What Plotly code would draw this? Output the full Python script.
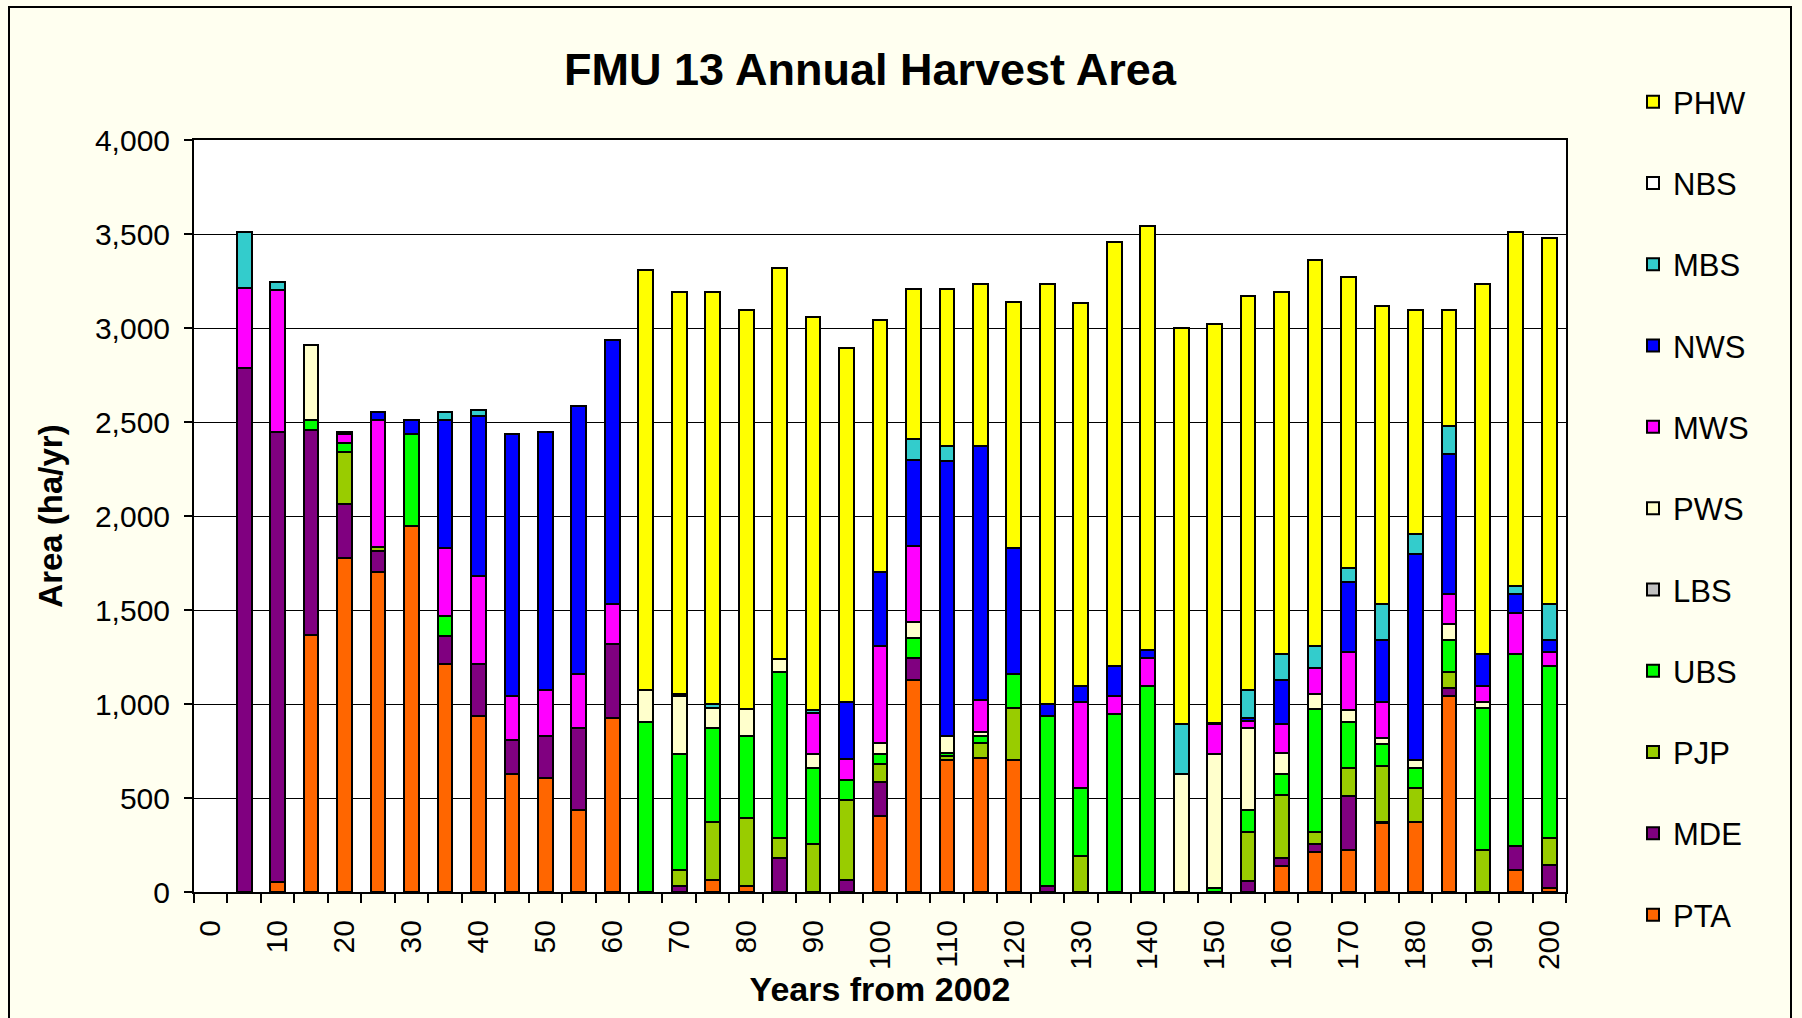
import plotly.graph_objects as go

# ---- data (ha/yr), years from 2002 ----
years = list(range(5, 205, 5))

PTA = [0, 55, 1365, 1778, 1702, 1947, 1213, 936, 627, 604, 434, 928, 0, 0, 65, 31, 0, 0, 0, 405,
       1127, 701, 714, 701, 0, 0, 0, 0, 0, 0, 0, 139, 214, 225, 366, 374, 1040, 0, 118, 21]
MDE = [2786, 2392, 1092, 284, 110, 0, 149, 277, 181, 225, 439, 392, 0, 34, 0, 0, 180, 0, 65, 178,
       117, 0, 0, 0, 31, 0, 0, 0, 0, 0, 58, 41, 42, 287, 8, 0, 45, 0, 125, 125]
PJP = [0, 0, 0, 280, 21, 0, 0, 0, 0, 0, 0, 0, 0, 84, 309, 361, 108, 256, 426, 97,
       0, 25, 78, 279, 0, 193, 0, 0, 0, 0, 261, 338, 63, 149, 295, 180, 86, 225, 0, 142]
UBS = [0, 0, 52, 45, 0, 489, 104, 0, 0, 0, 0, 0, 904, 617, 499, 437, 883, 405, 105, 55,
       105, 15, 37, 178, 905, 361, 949, 1098, 0, 21, 115, 109, 656, 241, 118, 107, 167, 755, 1022, 914]
LBS = [0] * 40
PWS = [0, 0, 398, 0, 0, 0, 0, 0, 0, 0, 0, 0, 173, 305, 107, 146, 71, 74, 0, 57,
       89, 88, 21, 0, 0, 0, 0, 0, 630, 714, 439, 113, 78, 65, 31, 40, 87, 29, 0, 0]
MWS = [427, 755, 0, 50, 676, 0, 364, 468, 232, 248, 285, 212, 0, 12, 0, 0, 0, 219, 112, 515,
       402, 0, 169, 0, 0, 455, 91, 146, 0, 156, 37, 151, 136, 309, 191, 0, 159, 86, 220, 74]
NWS = [0, 0, 0, 10, 45, 73, 679, 852, 1396, 1370, 1427, 1404, 0, 0, 0, 0, 0, 0, 301, 395,
       460, 1461, 1355, 672, 65, 86, 162, 45, 0, 10, 18, 236, 0, 371, 329, 1097, 745, 170, 99, 62]
MBS = [298, 42, 0, 0, 0, 0, 45, 31, 0, 0, 0, 0, 0, 0, 21, 0, 0, 16, 0, 0,
       107, 84, 0, 0, 0, 0, 0, 0, 261, 0, 149, 138, 118, 78, 194, 105, 149, 0, 45, 194]
NBS = [0] * 40
PHW = [0, 0, 0, 0, 0, 0, 0, 0, 0, 0, 0, 0, 2232, 2142, 2193, 2120, 2078, 2086, 1887, 1341,
       798, 831, 860, 1309, 2233, 2037, 2256, 2256, 2110, 2121, 2094, 1929, 2055, 1545, 1586, 1192, 617, 1969, 1882, 1947]

series_names = ["PTA", "MDE", "PJP", "UBS", "LBS", "PWS", "MWS", "NWS", "MBS", "NBS", "PHW"]
series_values = [PTA, MDE, PJP, UBS, LBS, PWS, MWS, NWS, MBS, NBS, PHW]
series_colors = ["#FF6600", "#800080", "#99CC00", "#00FF00", "#C0C0C0", "#FFFFCC",
                 "#FF00FF", "#0000FF", "#33CCCC", "#FFFFFF", "#FFFF00"]

x_tick_vals = list(range(0, 201, 10))
y_tick_vals = list(range(0, 4001, 500))

FONT = "Liberation Sans, Arial, sans-serif"

fig = go.Figure()
for i, (name, vals, color) in enumerate(zip(series_names, series_values, series_colors)):
    fig.add_trace(go.Bar(
        x=years,
        y=[v if v else None for v in vals],
        name=name,
        legendgroup=name,
        legendrank=100 - i,
        width=2.2,
        marker=dict(color=color, line=dict(color="black", width=2)),
    ))

# plot area in pixels: x 194..1566, y 140..892
L, R, T, B = 194, 1566, 140, 892
W, H = R - L, B - T

def px_x(p):
    return (p - L) / W

def px_y(p):
    return (B - p) / H

fig.update_layout(
    width=1802, height=1018,
    margin=dict(l=L, r=1802 - R, t=T, b=1018 - B, autoexpand=False),
    barmode="stack",
    paper_bgcolor="#FFFFF0",
    plot_bgcolor="#FFFFFF",
    font=dict(family=FONT, color="black", size=29),
    title=dict(text="<b>FMU 13 Annual Harvest Area</b>", font=dict(size=45, family=FONT),
               x=px_x(870), xref="paper", xanchor="center",
               y=1 - 69 / 1018, yref="container", yanchor="middle"),
    showlegend=True,
    legend=dict(
        traceorder="grouped",
        tracegroupgap=38,
        font=dict(size=31, family=FONT),
        x=px_x(1633), xanchor="left",
        y=px_y(75), yanchor="top",
        bgcolor="rgba(0,0,0,0)",
        borderwidth=0,
        maxheight=1000,
    ),
    xaxis=dict(
        range=[-2.5, 202.5],
        tickmode="array", tickvals=x_tick_vals, ticktext=[str(v) for v in x_tick_vals],
        tickangle=-90, ticks="", ticklabelstandoff=14,
        minor=dict(tick0=2.5, dtick=5, ticks="outside", ticklen=9, tickwidth=2, tickcolor="black"),
        showline=True, linecolor="black", linewidth=2, mirror=True,
        showgrid=False, zeroline=False, automargin=False,
        title=dict(text="<b>Years from 2002</b>", font=dict(size=34, family=FONT), standoff=2),
        tickfont=dict(size=30),
    ),
    yaxis=dict(
        range=[0, 4000],
        tickmode="array", tickvals=y_tick_vals,
        tickformat=",d",
        ticks="outside", ticklen=8, tickwidth=2, tickcolor="black", ticklabelstandoff=8,
        showline=True, linecolor="black", linewidth=2, mirror=True,
        showgrid=True, gridcolor="black", gridwidth=1, zeroline=False, automargin=False,
        title=dict(text="<b>Area (ha/yr)</b>", font=dict(size=33, family=FONT), standoff=22),
        tickfont=dict(size=30),
    ),
    shapes=[dict(type="rect", xref="paper", yref="paper",
                 x0=px_x(9), x1=px_x(1791), y0=px_y(1030), y1=px_y(7),
                 line=dict(color="black", width=2), fillcolor="rgba(0,0,0,0)", layer="below")],
)

fig.write_html("out.html", config={"displayModeBar": False},
               post_script="document.body.style.margin='0';document.body.style.overflow='hidden';")
